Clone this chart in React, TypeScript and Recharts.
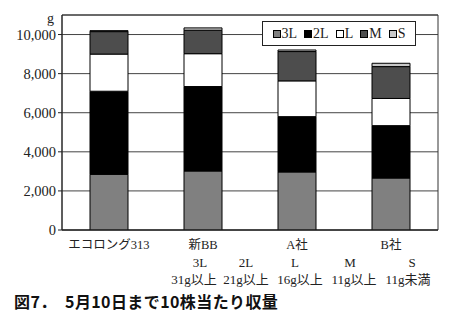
import React from 'react';
import { BarChart, Bar, XAxis, YAxis, CartesianGrid, ReferenceArea } from 'recharts';

const categories = ['エコロング313', '新BB', 'A社', 'B社'];
const s3L = [2850, 3020, 2970, 2660];
const s2L = [4250, 4320, 2830, 2680];
const sL = [1900, 1680, 1830, 1390];
const sM = [1150, 1200, 1500, 1630];
const sS = [50, 120, 80, 170];
const yTicks = [0, 2000, 4000, 6000, 8000, 10000];
const seriesNames = ['3L', '2L', 'L', 'M', 'S'];
const seriesColors = ['#808080', '#000000', '#ffffff', '#4d4d4d', '#c8c8c8'];
const sizeClasses = ['3L', '2L', 'L', 'M', 'S'];
const sizeRanges = ['31g以上', '21g以上', '16g以上', '11g以上', '11g未満'];
const title = '図7．　5月10日まで10株当たり収量';

const data = categories.map((c, i) => ({
  name: c,
  '3L': s3L[i],
  '2L': s2L[i],
  L: sL[i],
  M: sM[i],
  S: sS[i],
}));

const serif = '"Liberation Serif", "DejaVu Serif", "Noto Sans CJK JP", serif';
const jp = '"Liberation Serif", "Noto Sans CJK JP", serif';

const LegendBox = () => (
  <div
    style={{
      position: 'absolute',
      left: 262,
      top: 21,
      border: '1px solid #222',
      background: '#fff',
      width: 154,
      height: 25,
      boxSizing: 'border-box',
      display: 'flex',
      alignItems: 'center',
      justifyContent: 'center',
      gap: 7,
      fontFamily: serif,
      fontSize: 14,
      color: '#222',
    }}
  >
    {seriesNames.map((n, i) => (
      <span key={n} style={{ display: 'flex', alignItems: 'center' }}>
        <span
          style={{
            display: 'inline-block',
            width: 6,
            height: 6,
            background: seriesColors[i],
            border: '1px solid #000',
            marginRight: 1,
          }}
        />
        {n}
      </span>
    ))}
  </div>
);

const sizeX = [200, 246, 295, 350, 412];
const rangeX = [194, 246, 300, 354, 408];

export default function App() {
  return (
    <div style={{ position: 'absolute', left: 0, top: 0, width: 466, height: 330, background: '#fff' }}>
      <BarChart
        width={466}
        height={330}
        data={data}
        margin={{ top: 15, right: 28, bottom: 70, left: 0 }}
        barCategoryGap={0}
      >
        <CartesianGrid horizontal vertical={false} stroke="#444" strokeWidth={1} />
        <XAxis
          dataKey="name"
          height={30}
          interval={0}
          tick={{ fontFamily: jp, fontSize: 12.5, fill: '#222' }}
          tickLine={false}
          axisLine={{ stroke: '#222' }}
          tickMargin={4}
        />
        <YAxis
          width={62}
          domain={[0, 11000]}
          ticks={yTicks}
          allowDataOverflow
          tickFormatter={(v: number) => v.toLocaleString('en-US')}
          tick={{ fontFamily: serif, fontSize: 14.5, fill: '#222' }}
          tickLine={{ stroke: '#222' }}
          tickSize={4}
          axisLine={{ stroke: '#222' }}
        />
        <ReferenceArea y1={0} y2={11000} fill="none" stroke="#333" strokeWidth={1} ifOverflow="visible" />
        {seriesNames.map((n, i) => (
          <Bar
            key={n}
            dataKey={n}
            stackId="a"
            fill={seriesColors[i]}
            stroke="#000"
            strokeWidth={1}
            barSize={38}
            isAnimationActive={false}
          />
        ))}
      </BarChart>
      <LegendBox />
      <div style={{ position: 'absolute', left: 47, top: 11, fontFamily: serif, fontSize: 14, color: '#222' }}>g</div>
      {sizeClasses.map((s, i) => (
        <div
          key={s}
          style={{
            position: 'absolute',
            left: sizeX[i] - 20,
            width: 40,
            textAlign: 'center',
            top: 255,
            fontFamily: serif,
            fontSize: 13,
            color: '#222',
          }}
        >
          {s}
        </div>
      ))}
      {sizeRanges.map((s, i) => (
        <div
          key={s}
          style={{
            position: 'absolute',
            left: rangeX[i] - 30,
            width: 60,
            textAlign: 'center',
            top: 269,
            fontFamily: jp,
            fontSize: 13,
            color: '#222',
            whiteSpace: 'nowrap',
          }}
        >
          {s}
        </div>
      ))}
      <div
        style={{
          position: 'absolute',
          left: 14,
          top: 289,
          fontFamily: '"Noto Sans CJK JP", sans-serif',
          fontWeight: 'bold',
          fontSize: 16,
          letterSpacing: 0.4,
          color: '#111',
          whiteSpace: 'pre',
        }}
      >
        {title}
      </div>
    </div>
  );
}
